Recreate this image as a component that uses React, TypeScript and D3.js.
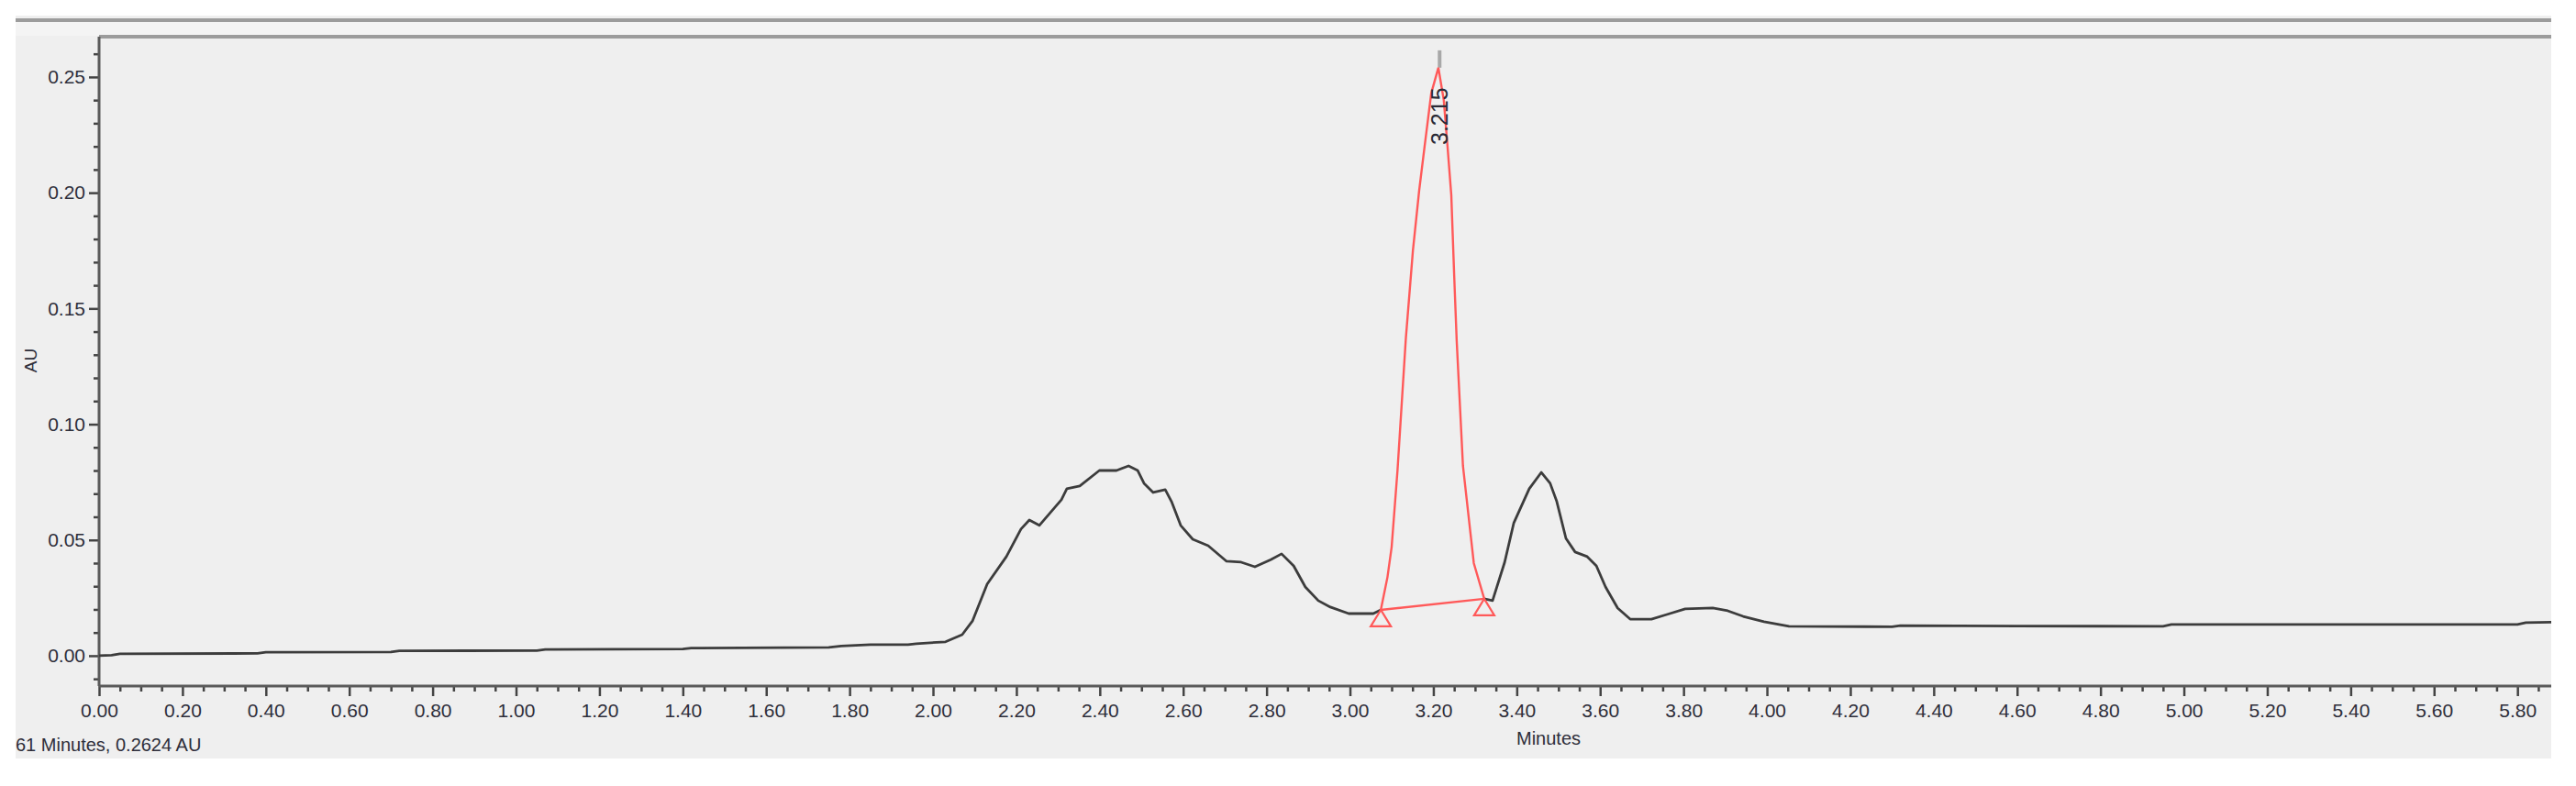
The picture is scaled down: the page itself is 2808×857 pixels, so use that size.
import React, { useEffect, useRef } from "react";
import * as d3 from "d3";

const WIDTH = 2808;
const HEIGHT = 857;

// Chromatogram trace outside the integrated peak (minutes / AU)
const traceTime = [
  0.0, 0.03, 0.05, 0.38, 0.4, 0.7, 0.72, 1.05, 1.07, 1.4, 1.42, 1.75, 1.78, 1.85, 1.94, 1.96,
  2.03, 2.07, 2.095, 2.13, 2.176, 2.211, 2.231, 2.255, 2.308, 2.321, 2.352, 2.399, 2.44, 2.469,
  2.491, 2.506, 2.528, 2.557, 2.572, 2.594, 2.623, 2.66, 2.704, 2.739, 2.772, 2.81, 2.836, 2.865,
  2.893, 2.924, 2.953, 2.997, 3.056, 3.074,
  3.322, 3.342, 3.371, 3.393, 3.43, 3.459, 3.48, 3.496, 3.518, 3.54, 3.569, 3.591, 3.613, 3.642,
  3.672, 3.723, 3.76, 3.804, 3.87, 3.906, 3.943, 3.993, 4.053, 4.3, 4.32, 4.6, 4.95, 4.97, 5.8,
  5.82, 5.881,
];
const traceAU = [
  0.0, 0.0002, 0.0008, 0.001, 0.0015, 0.0016, 0.0021, 0.0022, 0.0027, 0.0029, 0.0033, 0.0036,
  0.0042, 0.0048, 0.0048, 0.0052, 0.006, 0.0091, 0.0151, 0.031, 0.0428, 0.0547, 0.0586, 0.0563,
  0.0674, 0.0721, 0.0733, 0.08, 0.08, 0.082, 0.08, 0.0745, 0.0705, 0.0717, 0.0666, 0.0563,
  0.0503, 0.0475, 0.0408, 0.0404, 0.0384, 0.0415, 0.044, 0.0388, 0.0297, 0.0238, 0.021, 0.0182,
  0.0182, 0.0198,
  0.0246, 0.0238, 0.0404, 0.0574, 0.0721, 0.0792, 0.0745, 0.0666, 0.0507, 0.0448, 0.0428,
  0.0388, 0.0297, 0.0206, 0.0158, 0.0158, 0.0178, 0.0202, 0.0206, 0.0194, 0.017, 0.0147,
  0.0127, 0.0125, 0.013, 0.0128, 0.0127, 0.0135, 0.0135, 0.0143, 0.0145,
];

// Integrated peak (drawn in red)
const peakTime = [
  3.074, 3.09, 3.1, 3.114, 3.134, 3.151, 3.166, 3.179, 3.195, 3.212, 3.225, 3.234, 3.243, 3.25,
  3.256, 3.271, 3.297, 3.322,
];
const peakAU = [
  0.0198, 0.034, 0.047, 0.08, 0.137, 0.175, 0.201, 0.22, 0.243, 0.254, 0.24, 0.22, 0.199, 0.164,
  0.136, 0.082, 0.04, 0.0246,
];
const peakRT = 3.215;
const peakLabel = "3.215";
const peakMarkTop = 0.2615;

const xTicks = [
  0, 0.2, 0.4, 0.6, 0.8, 1.0, 1.2, 1.4, 1.6, 1.8, 2.0, 2.2, 2.4, 2.6, 2.8, 3.0, 3.2, 3.4, 3.6,
  3.8, 4.0, 4.2, 4.4, 4.6, 4.8, 5.0, 5.2, 5.4, 5.6, 5.8,
];
const yTicks = [0, 0.05, 0.1, 0.15, 0.2, 0.25];
const cursorText = "61 Minutes, 0.2624 AU";

const FONT = "'Liberation Sans', Arial, sans-serif";

const Chromatogram = () => {
  const ref = useRef<SVGSVGElement>(null);

  // plot frame
  const left = 108, right = 2781, top = 40, bottom = 748;

  useEffect(() => {
    drawGraph();
  }, []);

  const drawGraph = () => {
    const svg = d3.select(ref.current);
    svg.selectAll("*").remove();

    const x = d3.scaleLinear().domain([0, 5.881]).range([left, right]);
    const y = d3.scaleLinear().domain([-0.0131, 0.2674]).range([bottom, top]);

    // panel
    svg.append("rect").attr("x", 17).attr("y", 17).attr("width", right - 17).attr("height", 810)
      .attr("fill", "#efefef");
    svg.append("rect").attr("x", 17).attr("y", 24).attr("width", right - 17).attr("height", 15)
      .attr("fill", "#f4f4f4");
    svg.append("line").attr("x1", 17).attr("x2", right).attr("y1", 22).attr("y2", 22)
      .attr("stroke", "#9c9c9c").attr("stroke-width", 4);
    svg.append("line").attr("x1", left).attr("x2", right).attr("y1", top).attr("y2", top)
      .attr("stroke", "#9c9c9c").attr("stroke-width", 4);

    // minor ticks
    const xMinor = d3.range(0, 5.88, 0.05).filter((t) => Math.abs(t / 0.2 - Math.round(t / 0.2)) > 0.01);
    const yMinor = d3.range(-0.01, 0.265, 0.01).filter((v) => Math.abs(v / 0.05 - Math.round(v / 0.05)) > 0.01);

    svg.append("g")
      .attr("transform", `translate(0,${bottom})`)
      .call(d3.axisBottom(x).tickValues(xMinor).tickSize(6).tickFormat(() => ""))
      .call((g) => g.select(".domain").remove())
      .selectAll("line").attr("stroke", "#444").attr("stroke-width", 2.5);

    svg.append("g")
      .attr("transform", `translate(${left},0)`)
      .call(d3.axisLeft(y).tickValues(yMinor).tickSize(6).tickFormat(() => ""))
      .call((g) => g.select(".domain").remove())
      .selectAll("line").attr("stroke", "#444").attr("stroke-width", 2.5);

    // major ticks with labels
    const xAxis = svg.append("g")
      .attr("transform", `translate(0,${bottom})`)
      .call(d3.axisBottom(x).tickValues(xTicks).tickSize(11).tickPadding(8).tickFormat(d3.format(".2f")));
    xAxis.select(".domain").remove();
    xAxis.selectAll("line").attr("stroke", "#444").attr("stroke-width", 2.5);
    xAxis.selectAll("text").attr("font-size", 21).attr("font-family", FONT).attr("fill", "#2e2e3a");

    const yAxis = svg.append("g")
      .attr("transform", `translate(${left},0)`)
      .call(d3.axisLeft(y).tickValues(yTicks).tickSize(11).tickPadding(4).tickFormat(d3.format(".2f")));
    yAxis.select(".domain").remove();
    yAxis.selectAll("line").attr("stroke", "#444").attr("stroke-width", 2.5);
    yAxis.selectAll("text").attr("font-size", 21).attr("font-family", FONT).attr("fill", "#2e2e3a");

    // axis lines
    svg.append("line").attr("x1", left).attr("x2", left).attr("y1", top).attr("y2", bottom)
      .attr("stroke", "#5a5a5a").attr("stroke-width", 3);
    svg.append("line").attr("x1", left).attr("x2", right).attr("y1", bottom).attr("y2", bottom)
      .attr("stroke", "#5a5a5a").attr("stroke-width", 3);

    // black trace, split around the integrated peak
    const line = d3.line<number>()
      .x((i) => x(traceTime[i]))
      .y((i) => y(traceAU[i]));
    const idx = d3.range(traceTime.length);
    const before = idx.filter((i) => traceTime[i] <= peakTime[0]);
    const after = idx.filter((i) => traceTime[i] >= peakTime[peakTime.length - 1]);
    [before, after].forEach((part) => {
      svg.append("path").attr("d", line(part)).attr("fill", "none")
        .attr("stroke", "#3c3c3c").attr("stroke-width", 2.8).attr("stroke-linejoin", "round");
    });

    // retention marker
    svg.append("line")
      .attr("x1", x(peakRT)).attr("x2", x(peakRT))
      .attr("y1", y(peakMarkTop)).attr("y2", y(d3.max(peakAU) as number))
      .attr("stroke", "#a8a8a8").attr("stroke-width", 4);

    // red peak
    const peakLine = d3.line<number>()
      .x((i) => x(peakTime[i]))
      .y((i) => y(peakAU[i]));
    svg.append("path").attr("d", peakLine(d3.range(peakTime.length))).attr("fill", "none")
      .attr("stroke", "#ff5959").attr("stroke-width", 2.4);

    // baseline
    const ends = [0, peakTime.length - 1];
    svg.append("path").attr("d", peakLine(ends)).attr("fill", "none")
      .attr("stroke", "#ff5959").attr("stroke-width", 2.4);

    svg.selectAll(".marker").data(ends).join("path")
      .attr("class", "marker")
      .attr("transform", (i) => `translate(${x(peakTime[i])},${y(peakAU[i])})`)
      .attr("d", "M0,0L-11,18L11,18Z")
      .attr("fill", "none").attr("stroke", "#ff5959").attr("stroke-width", 2.2);

    // peak label
    svg.append("text")
      .attr("transform", `translate(${x(peakRT)},158) rotate(-90)`)
      .attr("dy", "0.35em")
      .attr("font-size", 25).attr("font-family", FONT).attr("fill", "#2a2a35")
      .text(peakLabel);

    // axis titles
    svg.append("text")
      .attr("transform", "translate(33,393) rotate(-90)")
      .attr("text-anchor", "middle").attr("dy", "0.35em")
      .attr("font-size", 19).attr("font-family", FONT).attr("fill", "#2e2e3a")
      .text("AU");
    svg.append("text")
      .attr("x", 1688).attr("y", 812)
      .attr("text-anchor", "middle")
      .attr("font-size", 20).attr("font-family", FONT).attr("fill", "#2e2e3a")
      .text("Minutes");
    svg.append("text")
      .attr("x", 17).attr("y", 819)
      .attr("font-size", 20).attr("font-family", FONT).attr("fill", "#2e2e3a")
      .text(cursorText);
  };

  return (
    <svg ref={ref} width={WIDTH} height={HEIGHT}
      style={{ position: "absolute", left: 0, top: 0, background: "#fff" }} />
  );
};

export default function App() {
  return <Chromatogram />;
}
